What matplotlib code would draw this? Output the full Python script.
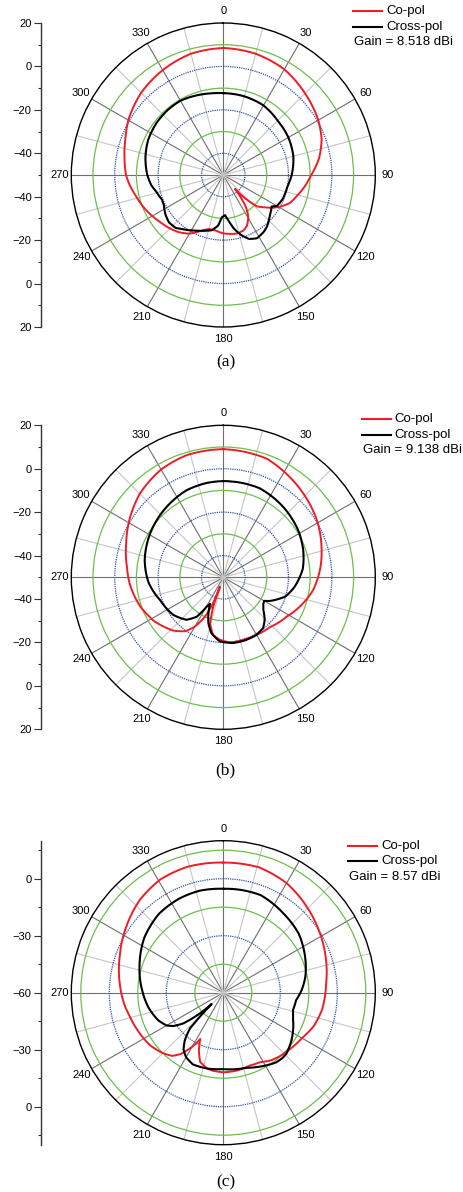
import numpy as np
import matplotlib
matplotlib.use("Agg")
from matplotlib import pyplot as plt
from matplotlib.lines import Line2D

plt.rcParams['font.family'] = ['Liberation Sans', 'DejaVu Sans']

# ---------------- data (angle in degrees, level in dB) ----------------
ang_a_co = [0, 15, 30, 45, 60, 70, 80, 90, 100, 105, 113, 120, 123, 128, 133, 137, 140, 141, 144,
            147, 150, 155, 160, 167, 175, 180, 188, 195, 200, 205, 210, 218, 226, 233, 240, 248,
            257, 264, 270, 280, 290, 300, 315, 330, 345, 360]
db_a_co = [8.5, 7.8, 6.2, 3.2, 0.5, -1.8, -5.2, -9.5, -12.8, -14.5, -16.8, -20.5, -22.4, -25.8,
           -28.8, -35.5, -41.6, -39.0, -33.0, -29.5, -27.0, -24.2, -22.8, -22.3, -22.8, -23.1,
           -24.2, -24.3, -23.0, -21.0, -18.8, -16.6, -15.0, -13.8, -12.2, -10.4, -8.5, -6.6, -5.2,
           -3.8, -2.0, 0.5, 3.5, 5.8, 7.8, 8.5]
ang_a_x = [0, 15, 30, 45, 60, 75, 90, 100, 112, 120, 123, 129, 133, 140, 145, 152, 158, 164, 169,
           173, 177.5, 182, 186, 192, 198, 206, 217, 222, 229, 236, 243, 248, 256, 262, 270, 283,
           295, 308, 320, 330, 344, 352, 360]
db_a_x = [-12.3, -12.5, -13.0, -14.6, -15.4, -16.6, -18.5, -20.0, -20.5, -21.5, -23.4, -22.1,
          -21.0, -18.8, -17.8, -17.0, -18.2, -21.5, -25.0, -28.5, -31.5, -30.5, -26.5, -24.0,
          -23.0, -21.5, -18.8, -17.2, -16.8, -17.8, -19.3, -19.6, -18.2, -16.5, -15.0, -13.2,
          -11.8, -11.0, -10.6, -10.5, -11.5, -12.0, -12.3]

ang_b_co = [0, 20, 31, 44, 60, 73, 84, 98, 111, 122, 137, 150, 162, 174, 183, 190, 196, 199, 200,
            202, 205, 210, 215, 223, 230, 238, 244, 250, 258, 266, 276, 289, 303, 315, 330, 343, 360]
db_b_co = [9.0, 8.2, 5.9, 3.3, 0.2, -2.7, -5.0, -8.2, -12.3, -15.7, -18.6, -19.4, -19.8, -19.8,
           -21.2, -23.0, -28.0, -36.0, -45.4, -36.0, -30.0, -23.8, -19.7, -16.4, -14.5, -12.2,
           -11.0, -9.6, -8.2, -6.8, -5.4, -2.7, 1.1, 4.4, 7.3, 8.7, 9.0]
ang_b_x = [0, 22, 40, 58, 71, 84, 98, 107, 112, 117, 120, 124, 129, 136, 142, 150, 160, 171, 183,
           192, 198, 204, 206.5, 209.5, 214, 221, 233, 250, 266, 282, 303, 321, 337, 350, 360]
db_b_x = [-5.7, -5.7, -7.4, -9.3, -11.1, -13.2, -17.0, -20.0, -23.0, -26.0, -28.3, -27.8, -26.3,
          -22.6, -20.3, -19.4, -19.3, -19.4, -20.4, -23.7, -27.8, -33.6, -36.3, -34.5, -28.1,
          -24.1, -21.2, -19.1, -15.5, -13.0, -10.5, -8.4, -6.5, -5.9, -5.7]

ang_c_co = [0, 16, 30, 44, 58, 72, 85, 100, 110, 120, 130, 138, 145, 152, 160, 170, 180, 188,
            192, 198.5, 203, 206.5, 208, 211, 215, 219, 225, 234.5, 244, 256, 262, 275, 289, 304,
            318, 331, 344, 360]
db_c_co = [8.5, 8.6, 6.6, 3.1, -0.2, -3.2, -5.7, -7.3, -9.2, -12.2, -14.0, -15.2, -16.5, -18.6,
           -19.2, -18.4, -18.1, -18.6, -19.2, -21.6, -27.1, -32.8, -29.8, -25.7, -20.5, -17.2,
           -15.0, -12.5, -11.1, -9.2, -7.8, -5.3, -2.3, 1.7, 5.7, 8.2, 8.9, 8.5]
ang_c_x = [0, 10, 21, 37, 52, 66, 79, 88, 96, 104, 110, 116, 125, 134, 138, 143, 152, 163, 172,
           180, 192, 203, 210, 215, 219, 223, 224.3, 225.8, 228.5, 232.5, 236.3, 240, 247, 259,
           272, 289, 305, 321, 335, 347, 360]
db_c_x = [-5.3, -5.1, -5.0, -7.6, -9.6, -12.9, -16.0, -18.7, -21.5, -22.2, -21.0, -19.0, -16.2,
          -13.8, -13.6, -14.0, -16.2, -18.7, -19.3, -19.8, -19.2, -19.0, -20.8, -23.5, -27.8,
          -34.3, -42.4, -51.4, -43.6, -33.4, -28.4, -25.5, -22.8, -19.8, -17.2, -13.4, -9.3,
          -6.4, -5.3, -4.9, -5.3]

gains = ["Gain = 8.518 dBi", "Gain = 9.138 dBi", "Gain = 8.57 dBi"]
captions = ["(a)", "(b)", "(c)"]
theta_labels = [str(a) for a in range(0, 360, 30)]

RED = '#ee1d25'
GREEN = '#6cbf4a'
BLUE = '#3350b0'
W, H = 463, 1192


def px_rect(x, y, w, h):
    return [x / W, 1 - (y + h) / H, w / W, h / H]


def trace(ax, ang, db, **kw):
    ln, = ax.plot(np.deg2rad(ang), db, **kw)
    # let the polar transform bend each segment like the original plot
    ln.get_path()._interpolation_steps = 12
    return ln


def panel(fig, cx, cy, R, rmin, rmax, rings, ring_cols, lticks, lminor, llabels,
          co, cross, gain, caption, leg_x, leg_y, cap_y):
    ax = fig.add_axes(px_rect(cx - R, cy - R, 2 * R, 2 * R), projection='polar')
    ax.set_theta_zero_location('N')
    ax.set_theta_direction(-1)
    ax.set_ylim(rmin, rmax)

    ax.set_xticks(np.deg2rad(np.arange(0, 360, 30)))
    ax.set_xticklabels(theta_labels)
    ax.set_xticks(np.deg2rad(np.arange(15, 360, 30)), minor=True)
    ax.xaxis.grid(True, which='major', color='#6e6e6e', lw=0.8)
    ax.xaxis.grid(True, which='minor', color='#c6c6c6', lw=0.8)
    ax.tick_params(axis='x', which='major', direction='out', length=4, width=0.8,
                   color='#6e6e6e', pad=-2.3, labelsize=8)
    ax.tick_params(axis='x', which='minor', direction='out', length=2.5, width=0.7,
                   color='black')

    ax.set_yticks(rings)
    ax.set_yticklabels([])
    ax.tick_params(axis='y', length=0)
    ax.yaxis.grid(True)
    for gl, c in zip(ax.yaxis.get_gridlines(), ring_cols):
        gl.set_color(GREEN if c == 'g' else BLUE)
        gl.set_linewidth(0.9)
        gl.set_linestyle('-' if c == 'g' else (0, (1, 0.8)))
    ax.spines['polar'].set_linewidth(1.0)
    ax.spines['polar'].set_color('black')

    trace(ax, co[0], co[1], color=RED, lw=1.4)
    trace(ax, cross[0], cross[1], color='black', lw=1.5)

    # mirrored radial scale at the left
    span = rmax - rmin
    lax = fig.add_axes(px_rect(40.7, cy - R, 0.01, 2 * R))
    lax.patch.set_visible(False)
    for s in ['top', 'right', 'bottom']:
        lax.spines[s].set_visible(False)
    lax.spines['left'].set_color('#333333')
    lax.spines['left'].set_linewidth(1.0)
    lax.set_ylim(-span, span)
    lax.set_xticks([])
    lax.set_yticks(lticks)
    lax.set_yticklabels(llabels)
    lax.set_yticks(lminor, minor=True)
    lax.tick_params(axis='y', which='major', length=5, width=0.8, color='#333333',
                    labelsize=8, pad=1.5)
    lax.tick_params(axis='y', which='minor', length=2.5, width=0.8, color='#333333')

    # legend block
    for i, (col, lab) in enumerate([(RED, 'Co-pol'), ('black', 'Cross-pol')]):
        y = leg_y + i * 15.7
        fig.add_artist(Line2D([leg_x / W, (leg_x + 29) / W], [1 - y / H, 1 - y / H],
                              color=col, lw=1.5))
        fig.text((leg_x + 33) / W, 1 - y / H, lab, fontsize=9.5, va='center', ha='left')
    fig.text((leg_x + 1) / W, 1 - (leg_y + 31.4) / H, gain, fontsize=9.5, va='center', ha='left')

    fig.text(225.5 / W, 1 - cap_y / H, caption, fontsize=12.5, va='center', ha='center',
             family=['Liberation Serif', 'DejaVu Serif'])


def main():
    fig = plt.figure(figsize=(W / 100, H / 100), dpi=100)

    ab_ticks = [70, 50, 30, 10, -10, -30, -50, -70]
    ab_minor = [60, 40, 20, 0, -20, -40, -60]
    ab_labels = ['20', '0', '\u221220', '\u221240', '\u221240', '\u221220', '0', '20']
    c_ticks = [60, 30, 0, -30, -60]
    c_minor = [75, 45, 15, -15, -45, -75]
    c_labels = ['0', '\u221230', '\u221260', '\u221230', '0']

    panel(fig, 223.3, 175.0, 152, -50, 20, [-40, -30, -20, -10, 0, 10], 'bgbgbg',
          ab_ticks, ab_minor, ab_labels, (ang_a_co, db_a_co), (ang_a_x, db_a_x),
          gains[0], captions[0], 353, 11, 362.7)
    panel(fig, 223.3, 577.3, 152, -50, 20, [-40, -30, -20, -10, 0, 10], 'bgbgbg',
          ab_ticks, ab_minor, ab_labels, (ang_b_co, db_b_co), (ang_b_x, db_b_x),
          gains[1], captions[1], 361.7, 419, 770)
    panel(fig, 223.3, 992.7, 152, -60, 20, [-45, -30, -15, 0, 15], 'gbgbg',
          c_ticks, c_minor, c_labels, (ang_c_co, db_c_co), (ang_c_x, db_c_x),
          gains[2], captions[2], 348.3, 845.7, 1182)

    fig.savefig("out.png", dpi=100)


if __name__ == "__main__":
    main()
